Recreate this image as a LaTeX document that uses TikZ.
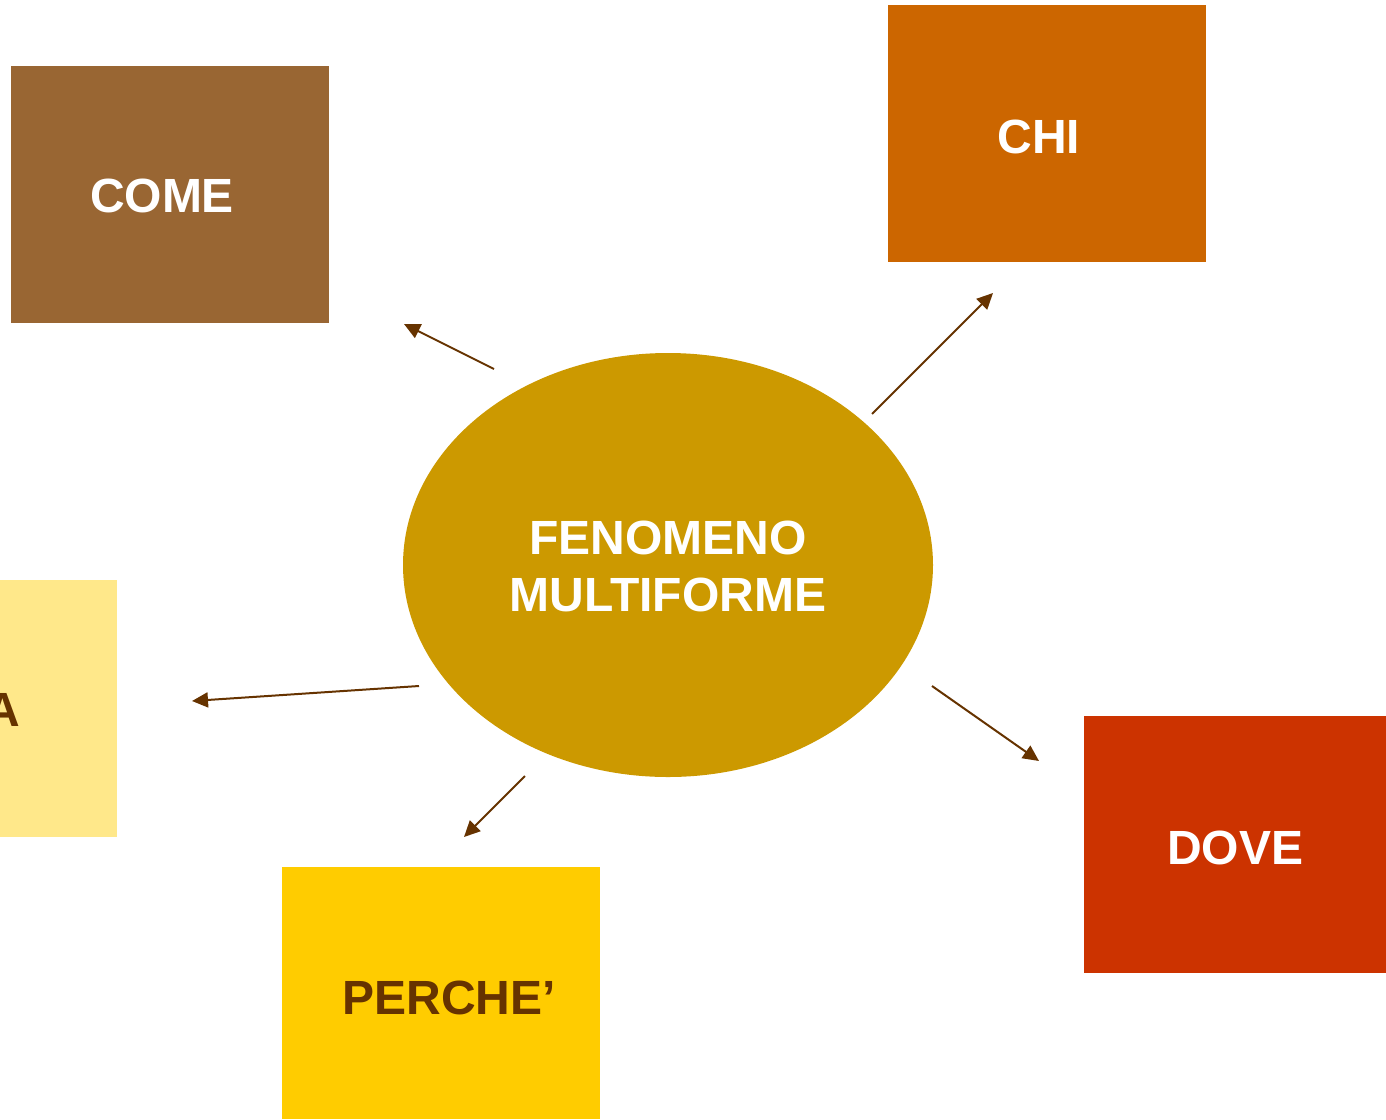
\documentclass[tikz,border=0pt]{standalone}
\usepackage{fontspec}
\setmainfont{Liberation Sans}
\usetikzlibrary{arrows.meta}
\definecolor{comec}{HTML}{996633}
\definecolor{chic}{HTML}{CC6600}
\definecolor{dovec}{HTML}{CC3300}
\definecolor{perchec}{HTML}{FFCC00}
\definecolor{leftc}{HTML}{FFE88A}
\definecolor{ellc}{HTML}{CC9900}
\definecolor{brownc}{HTML}{663300}
\tikzset{
  lbl/.style={font=\fontsize{48}{57}\selectfont\bfseries, inner sep=0pt},
  conn/.style={draw=brownc, line width=2pt, -{Triangle[length=16pt,width=15pt]}},
}
\begin{document}
\begin{tikzpicture}[x=1pt,y=-1pt]
\useasboundingbox (0,0) rectangle (1386,1119);
% boxes
\fill[comec] (11,66) rectangle (329,323);
\fill[chic] (888,5) rectangle (1206,262);
\fill[dovec] (1084,716) rectangle (1386,973);
\fill[perchec] (282,867) rectangle (600,1119);
\fill[leftc] (0,580) rectangle (117,837);
\fill[ellc] (668,565) ellipse [x radius=265, y radius=212];
% labels
\node[lbl, text=white] (come) at (162,196) {COME};
\node[lbl, text=white] (chi) at (1039,137) {CHI};
\node[lbl, text=white] (dove) at (1235,848) {DOVE};
\node[lbl, text=brownc] (perche) at (449,998) {PERCHE’};
\node[lbl, text=brownc, anchor=east] (leftlbl) at (20,710) {A};
\node[lbl, text=white, align=center] (fen) at (668,566) {FENOMENO\\MULTIFORME};
% connector endpoints
\coordinate (a1s) at (494,369); \coordinate (a1e) at (404,324);
\coordinate (a2s) at (872,414); \coordinate (a2e) at (993,293);
\coordinate (a3s) at (932,686); \coordinate (a3e) at (1039,761);
\coordinate (a4s) at (525,776); \coordinate (a4e) at (464,837);
\coordinate (a5s) at (419,686); \coordinate (a5e) at (192,701);
\draw[conn] (a1s) -- (a1e);
\draw[conn] (a2s) -- (a2e);
\draw[conn] (a3s) -- (a3e);
\draw[conn] (a4s) -- (a4e);
\draw[conn] (a5s) -- (a5e);
\end{tikzpicture}
\end{document}
